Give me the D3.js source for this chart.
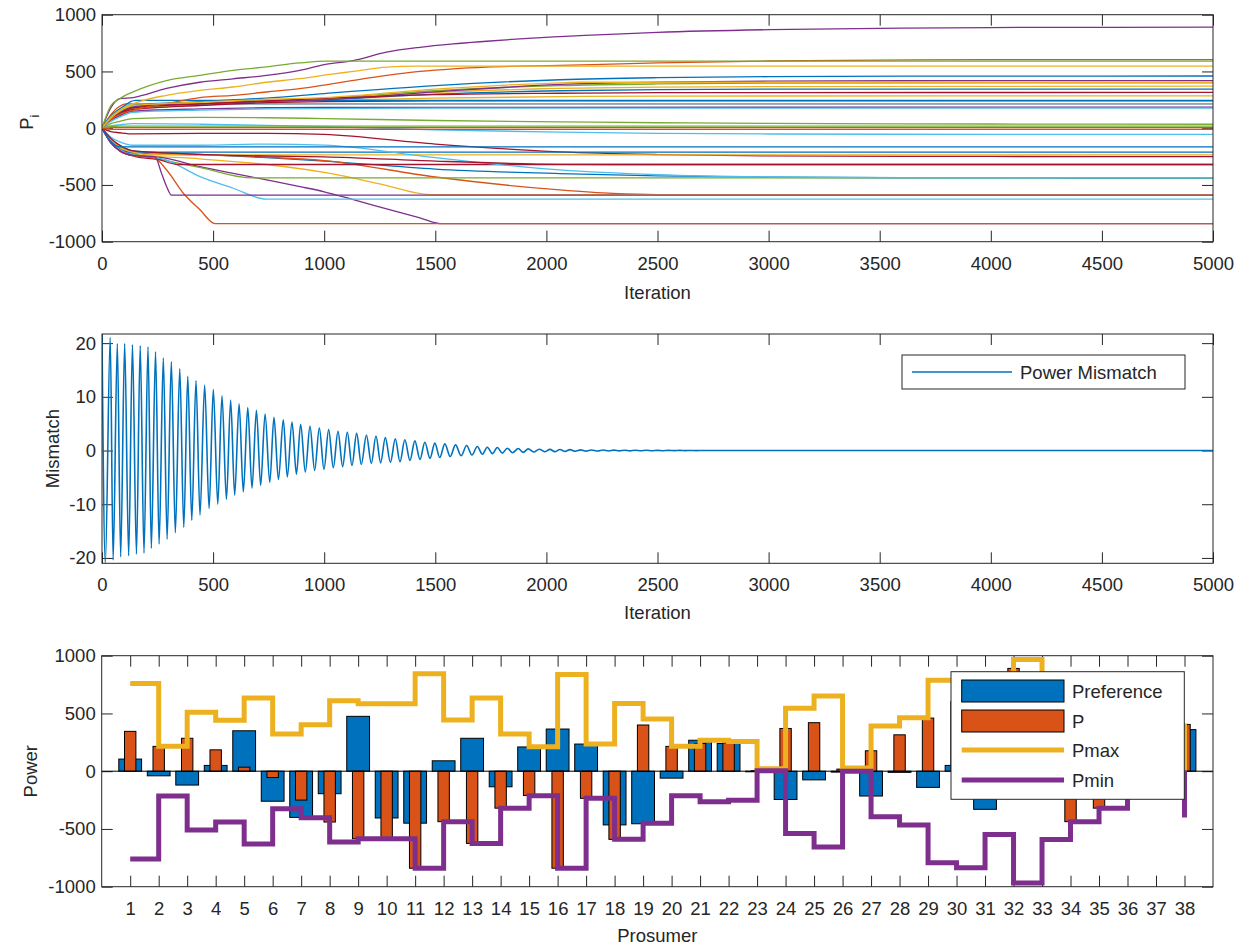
<!DOCTYPE html>
<html>
<head>
<meta charset="utf-8">
<script src="https://cdn.jsdelivr.net/npm/d3@7"></script>
<style>
  body { margin: 0; background: #fff; }
  svg { display: block; }
  text { font-family: "Liberation Sans", Arial, Helvetica, sans-serif; fill: #262626; }
</style>
</head>
<body>
<svg id="fig" width="1246" height="950"></svg>
<script>
// ---------------- data ----------------
const prosumers = d3.range(1, 39);
const iterationTicks = d3.range(0, 5001, 500);
const powerTicks = [-1000, -500, 0, 500, 1000];
const mismatchTicks = [-20, -10, 0, 10, 20];

// preferred power of each prosumer
const preference = [105, -40, -120, 50, 350, -260, -400, -195, 475, -405,
  -450, 90, 285, -135, 210, 365, 235, -465, -455, -60,
  268, 240, -5, -245, -75, -8, -215, -10, -140, 50,
  -330, 520, 300, -180, 120, -90, 30, 360];
// converged power P of each prosumer
const finalP = [345, 215, 285, 185, 35, -55, -250, -440, -585, -585,
  -840, -437, -625, -320, -210, -840, -235, -590, 400, 215,
  240, 245, 5, 370, 420, 18, 177, 315, 460, 605,
  547, 890, 591, -437, -320, -164, -10, 405];
// power limits
const pMax = [760, 215, 510, 441, 634, 323, 403, 611, 585, 585,
  844, 444, 634, 322, 212, 838, 235, 587, 452, 215,
  268, 258, 22, 544, 651, 28, 391, 463, 788, 837,
  548, 967, 592, 433, 317, 165, 10, 413];
const pMin = [-760, -215, -510, -440, -630, -325, -403, -614, -585, -585,
  -840, -437, -625, -320, -212, -840, -235, -590, -450, -212,
  -264, -252, 3, -540, -657, 0, -394, -465, -793, -837,
  -548, -967, -592, -437, -320, -164, -14, -400];

// P_i over the iterations: [iteration, value] key points per prosumer (the line then holds finalP)
const trajectories = [
  [[0,0],[40,90],[80,140],[140,190],[440,215],[740,235],[1000,250],[1500,300],[2060,330],[2500,340],[3000,344]],
  [[0,0],[40,120],[70,180],[110,215]],
  [[0,0],[40,80],[80,120],[140,170],[440,205],[740,230],[1000,245],[1500,265],[2060,278],[2500,283]],
  [[0,0],[40,70],[80,110],[140,150],[440,170],[740,180],[1000,184]],
  [[0,0],[40,40],[80,60],[140,85],[440,95],[740,92],[1000,85],[1500,68],[2060,56],[2500,48],[3000,42],[4000,37]],
  [[0,0],[40,20],[80,30],[140,40],[440,35],[740,25],[1000,15],[1500,-15],[2060,-35],[2500,-45],[3000,-51],[4000,-54]],
  [[0,0],[40,-30],[80,-40],[140,-50],[440,-45],[740,-45],[1000,-55],[1500,-140],[2060,-208],[2500,-232],[3000,-244],[4000,-249]],
  [[0,0],[40,-100],[80,-150],[140,-200],[440,-230],[740,-260],[1000,-290],[1500,-360],[2060,-400],[2500,-420],[3000,-432],[4000,-438]],
  [[0,0],[40,-110],[80,-170],[140,-220],[440,-235],[740,-255],[1000,-285],[1500,-430],[2060,-544],[2300,-575],[2500,-585]],
  [[0,0],[40,-120],[80,-180],[140,-230],[440,-270],[740,-320],[1026,-398],[1250,-490],[1476,-585]],
  [[0,0],[40,-120],[80,-180],[140,-230],[291,-266],[441,-339],[591,-398],[741,-456],[891,-515],[1000,-560],[1131,-630],[1281,-710],[1431,-790],[1521,-840]],
  [[0,0],[40,-110],[80,-160],[140,-220],[300,-290],[450,-350],[666,-437]],
  [[0,0],[40,-120],[80,-180],[140,-230],[291,-281],[441,-427],[591,-529],[741,-625]],
  [[0,0],[40,-130],[80,-200],[150,-250],[250,-275],[343,-320]],
  [[0,0],[40,-110],[80,-175],[120,-210]],
  [[0,0],[40,-130],[80,-200],[140,-240],[238,-266],[291,-368],[366,-573],[441,-719],[508,-840]],
  [[0,0],[40,-100],[80,-170],[140,-210],[216,-235]],
  [[0,0],[40,-130],[80,-200],[140,-240],[238,-251],[268,-398],[291,-515],[313,-590]],
  [[0,0],[40,80],[80,130],[140,180],[440,210],[740,240],[1000,262],[1500,330],[2060,375],[2500,390],[3000,397]],
  [[0,0],[40,110],[80,170],[140,215]],
  [[0,0],[40,80],[80,120],[140,165],[440,200],[740,225],[1000,235],[1500,240]],
  [[0,0],[40,110],[80,170],[150,245]],
  [[0,0],[40,5],[80,5]],
  [[0,0],[40,80],[80,130],[140,185],[440,220],[740,245],[1000,260],[1500,315],[2060,350],[2500,362],[3000,367]],
  [[0,0],[40,90],[80,140],[140,190],[440,215],[740,235],[1000,250],[1500,320],[2060,386],[2500,405],[3000,414],[4000,419]],
  [[0,0],[40,15],[80,18]],
  [[0,0],[40,60],[80,100],[140,140],[440,160],[740,170],[1000,173],[1500,176]],
  [[0,0],[40,80],[80,130],[140,180],[440,215],[740,240],[1000,262],[1500,295],[2060,308],[2500,313]],
  [[0,0],[40,100],[80,150],[140,200],[440,235],[740,265],[1000,305],[1500,375],[2060,427],[2500,445],[3000,454],[4000,459]],
  [[0,0],[40,80],[80,120],[140,158],[290,216],[440,269],[590,289],[740,319],[890,348],[1000,380],[1131,421],[1281,465],[1431,500],[1581,523],[1731,538],[2061,553],[2500,575],[3000,592],[3500,600],[4000,604]],
  [[0,0],[40,100],[80,160],[140,215],[290,290],[440,333],[590,363],[740,405],[890,436],[1026,474],[1130,500],[1280,538],[1420,547]],
  [[0,0],[40,180],[80,260],[140,270],[290,350],[440,405],[590,435],[740,465],[890,510],[1000,560],[1130,596],[1280,670],[1430,713],[1580,743],[1730,766],[1880,787],[2060,807],[2500,845],[3000,868],[3500,880],[4000,887]],
  [[0,0],[40,200],[80,260],[140,320],[290,420],[440,465],[590,510],[740,540],[890,575],[1010,591]],
  [[0,0],[40,-80],[80,-120],[140,-150],[440,-150],[740,-140],[1000,-150],[1500,-260],[2060,-368],[2500,-410],[3000,-430],[3500,-436]],
  [[0,0],[40,-90],[80,-150],[140,-200],[440,-230],[740,-245],[1000,-252],[1500,-290],[2060,-318],[2300,-320]],
  [[0,0],[40,-120],[80,-164]],
  [[0,0],[40,-10],[80,-10]],
  [[0,0],[40,90],[80,150],[140,200],[440,230],[740,255],[1000,270],[1500,345],[2060,400],[2150,405]]
];

// power mismatch: successive extrema [iteration] and their values
const mismatchIter = [0, 15, 37, 50, 69, 84, 102, 120, 137, 155, 172, 189, 207, 222, 241, 257, 276, 293, 312, 330,
  350, 368, 386, 404, 423, 441, 462, 482, 501, 521, 540, 560, 579, 597, 617, 636, 656, 675, 695, 714,
  734, 755, 774, 794, 816, 834, 855, 875, 894, 915, 936, 957, 978, 999, 1020, 1041, 1062, 1083, 1104, 1125,
  1146, 1167, 1190, 1212, 1233, 1254, 1275, 1298, 1320, 1341, 1363, 1386, 1408, 1431, 1453, 1476, 1498, 1520, 1543, 1567,
  1591, 1616, 1641, 1665, 1689, 1712, 1734, 1757, 1779, 1802, 1824, 1848, 1873, 1896, 1918, 1943, 1968, 1992, 2016, 2038,
  2061, 2084, 2106, 2130, 2154, 2178, 2203, 2230, 2256, 2280, 2304, 2328, 2352, 2376, 2400, 2425, 2450, 2475, 2500, 2525,
  2550, 2575, 2600, 2625, 2650, 2675, 2700, 2750, 5000];
const mismatchVal = [21.7, -21.0, 21.1, -20.4, 19.9, -19.8, 19.9, -19.6, 19.7, -19.3, 19.5, -19.1, 19.3, -18.2, 18.4, -17.4, 17.2, -16.5, 16.5, -15.3,
  15.2, -14.3, 13.8, -13.0, 13.0, -12.0, 12.2, -10.8, 11.4, -10.0, 10.2, -9.1, 9.4, -8.3, 8.7, -7.7, 8.0, -7.0, 7.5, -6.5,
  6.8, -5.9, 6.2, -5.4, 5.7, -4.9, 5.3, -4.4, 4.9, -4.0, 4.5, -3.7, 4.2, -3.5, 3.9, -3.2, 3.6, -3.0, 3.4, -2.8,
  3.2, -2.6, 2.9, -2.4, 2.7, -2.3, 2.4, -2.2, 2.2, -2.1, 2.0, -1.85, 1.8, -1.65, 1.55, -1.45, 1.37, -1.3, 1.24, -1.12,
  1.05, -0.98, 0.93, -0.84, 0.75, -0.68, 0.62, -0.58, 0.56, -0.48, 0.43, -0.4, 0.37, -0.34, 0.31, -0.28, 0.25, -0.23, 0.22, -0.2,
  0.19, -0.17, 0.16, -0.14, 0.13, -0.12, 0.11, -0.1, 0.09, -0.085, 0.08, -0.07, 0.065, -0.06, 0.055, -0.05, 0.045, -0.04, 0.035, -0.03,
  0.03, -0.025, 0.02, -0.02, 0.015, -0.01, 0.01, 0, 0];

// ---------------- layout & style ----------------
const lineColors = ['#0072BD', '#D95319', '#EDB120', '#7E2F8E', '#77AC30', '#4DBEEE', '#A2142F'];
const axisColor = '#262626';
const FS = 18.5;
const TICK = 11;

const panels = {
  top: { l: 102, r: 1213, t: 14.7, b: 241.7 },
  mid: { l: 102, r: 1213, t: 334, b: 563.3 },
  bot: { l: 101.7, r: 1213, t: 655.7, b: 886.7 }
};

const svg = d3.select('#fig');
svg.append('rect').attr('width', 1246).attr('height', 950).attr('fill', '#fff');

let clipCount = 0;
function makeClip(p) {
  const id = 'clip' + (clipCount++);
  svg.append('clipPath').attr('id', id)
    .append('rect').attr('x', p.l).attr('y', p.t).attr('width', p.r - p.l).attr('height', p.b - p.t);
  return 'url(#' + id + ')';
}

function styleAxis(g) {
  g.select('.domain').remove();
  g.selectAll('.tick line').attr('stroke', axisColor).attr('stroke-width', 1);
  g.selectAll('.tick text').attr('font-size', FS).attr('fill', axisColor)
    .style('font-family', '"Liberation Sans", Arial, sans-serif');
}

// axes frame with inward ticks on all four sides
function drawFrame(p, x, y, xTicks, yTicks) {
  const g = svg.append('g');
  g.append('g').attr('transform', `translate(0,${p.b})`)
    .call(d3.axisBottom(x).tickValues(xTicks).tickSize(-TICK).tickPadding(15).tickFormat(d3.format('d')))
    .call(styleAxis);
  g.append('g').attr('transform', `translate(0,${p.t})`)
    .call(d3.axisTop(x).tickValues(xTicks).tickSize(-TICK).tickFormat(''))
    .call(styleAxis);
  g.append('g').attr('transform', `translate(${p.l},0)`)
    .call(d3.axisLeft(y).tickValues(yTicks).tickSize(-TICK).tickPadding(6).tickFormat(d3.format('d')))
    .call(styleAxis);
  g.append('g').attr('transform', `translate(${p.r},0)`)
    .call(d3.axisRight(y).tickValues(yTicks).tickSize(-TICK).tickFormat(''))
    .call(styleAxis);
  g.selectAll('.tick text').text(function () { return this.textContent.replace('\u2212', '-'); });
  return g;
}

function drawBox(p) {
  svg.append('rect').attr('x', p.l).attr('y', p.t).attr('width', p.r - p.l).attr('height', p.b - p.t)
    .attr('fill', 'none').attr('stroke', axisColor).attr('stroke-width', 1);
}

function xLabel(p, txt, yy) {
  svg.append('text').attr('x', (p.l + p.r) / 2).attr('y', yy).attr('text-anchor', 'middle')
    .attr('dominant-baseline', 'central').attr('font-size', FS).text(txt);
}

// ---------------- panel 1: P_i trajectories ----------------
{
  const p = panels.top;
  const x = d3.scaleLinear([0, 5000], [p.l, p.r]);
  const y = d3.scaleLinear([-1000, 1000], [p.b, p.t]);
  drawFrame(p, x, y, iterationTicks, powerTicks);
  const line = d3.line().x(d => x(d[0])).y(d => y(d[1])).curve(d3.curveMonotoneX);
  const g = svg.append('g').attr('clip-path', makeClip(p));
  trajectories.forEach((pts, i) => {
    g.append('path').attr('d', line(pts.concat([[5000, finalP[i]]])))
      .attr('fill', 'none').attr('stroke', lineColors[i % 7]).attr('stroke-width', 1.3);
  });
  drawBox(p);
  xLabel(p, 'Iteration', 292);
  const yl = svg.append('text').attr('transform', `translate(33,${(p.t + p.b) / 2 - 6}) rotate(-90)`)
    .attr('text-anchor', 'middle').attr('font-size', FS);
  yl.append('tspan').text('P');
  yl.append('tspan').attr('font-size', FS * 0.7).attr('dy', FS * 0.3).text('i');
}

// ---------------- panel 2: power mismatch ----------------
{
  const p = panels.mid;
  const x = d3.scaleLinear([0, 5000], [p.l, p.r]);
  const y = d3.scaleLinear([-21.0, 21.7], [p.b, p.t]);
  drawFrame(p, x, y, iterationTicks, mismatchTicks);
  const pts = mismatchIter.map((t, i) => [t, mismatchVal[i]]);
  const line = d3.line().x(d => x(d[0])).y(d => y(d[1])).curve(d3.curveMonotoneX);
  svg.append('g').attr('clip-path', makeClip(p))
    .append('path').attr('d', line(pts))
    .attr('fill', 'none').attr('stroke', lineColors[0]).attr('stroke-width', 1.6);
  drawBox(p);
  xLabel(p, 'Iteration', 612);
  svg.append('text').attr('transform', `translate(52,${(p.t + p.b) / 2}) rotate(-90)`)
    .attr('text-anchor', 'middle').attr('dominant-baseline', 'central').attr('font-size', FS).text('Mismatch');
  // legend
  const lg = svg.append('g');
  lg.append('rect').attr('x', 902).attr('y', 355).attr('width', 283).attr('height', 34)
    .attr('fill', '#fff').attr('stroke', axisColor).attr('stroke-width', 1);
  lg.append('line').attr('x1', 912).attr('x2', 1012).attr('y1', 372).attr('y2', 372)
    .attr('stroke', lineColors[0]).attr('stroke-width', 1.6);
  lg.append('text').attr('x', 1020).attr('y', 372).attr('dominant-baseline', 'central')
    .attr('font-size', FS).text('Power Mismatch');
}

// ---------------- panel 3: prosumer powers ----------------
{
  const p = panels.bot;
  const x = d3.scaleLinear([0, 39], [p.l, p.r]);
  const y = d3.scaleLinear([-1000, 1000], [p.b, p.t]);
  drawFrame(p, x, y, prosumers, powerTicks);
  const unit = x(1) - x(0);
  const g = svg.append('g').attr('clip-path', makeClip(p));
  // preference bars (wide) and converged P bars (narrow) share the category centre
  g.selectAll('rect.pref').data(preference).join('rect').attr('class', 'pref')
    .attr('x', (d, i) => x(prosumers[i]) - 0.4 * unit).attr('width', 0.8 * unit)
    .attr('y', d => y(Math.max(0, d))).attr('height', d => Math.abs(y(d) - y(0)))
    .attr('fill', '#0072BD').attr('stroke', '#000').attr('stroke-width', 1);
  g.selectAll('rect.pbar').data(finalP).join('rect').attr('class', 'pbar')
    .attr('x', (d, i) => x(prosumers[i]) - 0.2 * unit).attr('width', 0.4 * unit)
    .attr('y', d => y(Math.max(0, d))).attr('height', d => Math.abs(y(d) - y(0)))
    .attr('fill', '#D95319').attr('stroke', '#000').attr('stroke-width', 1);
  // baseline
  g.append('line').attr('x1', p.l).attr('x2', p.r).attr('y1', y(0)).attr('y2', y(0))
    .attr('stroke', '#000').attr('stroke-width', 1);
  const stairs = d3.line().x(d => x(d[0])).y(d => y(d[1])).curve(d3.curveStepAfter);
  g.append('path').attr('d', stairs(pMax.map((v, i) => [prosumers[i], v])))
    .attr('fill', 'none').attr('stroke', '#EDB120').attr('stroke-width', 5).attr('stroke-linejoin', 'miter');
  g.append('path').attr('d', stairs(pMin.map((v, i) => [prosumers[i], v])))
    .attr('fill', 'none').attr('stroke', '#7E2F8E').attr('stroke-width', 5).attr('stroke-linejoin', 'miter');
  drawBox(p);
  xLabel(p, 'Prosumer', 935);
  svg.append('text').attr('transform', `translate(30,${(p.t + p.b) / 2}) rotate(-90)`)
    .attr('text-anchor', 'middle').attr('dominant-baseline', 'central').attr('font-size', FS).text('Power');

  // legend
  const lg = svg.append('g');
  lg.append('rect').attr('x', 951).attr('y', 671.7).attr('width', 233.3).attr('height', 127.6)
    .attr('fill', '#fff').attr('stroke', axisColor).attr('stroke-width', 1);
  const entries = [
    { label: 'Preference', type: 'bar', color: '#0072BD', y: 691 },
    { label: 'P', type: 'bar', color: '#D95319', y: 721 },
    { label: 'Pmax', type: 'line', color: '#EDB120', y: 750 },
    { label: 'Pmin', type: 'line', color: '#7E2F8E', y: 780 }
  ];
  entries.forEach(e => {
    if (e.type === 'bar') {
      lg.append('rect').attr('x', 961.7).attr('y', e.y - 11).attr('width', 102.3).attr('height', 22)
        .attr('fill', e.color).attr('stroke', '#000').attr('stroke-width', 1);
    } else {
      lg.append('line').attr('x1', 961.7).attr('x2', 1064).attr('y1', e.y).attr('y2', e.y)
        .attr('stroke', e.color).attr('stroke-width', 5);
    }
    lg.append('text').attr('x', 1072).attr('y', e.y).attr('dominant-baseline', 'central')
      .attr('font-size', FS).text(e.label);
  });
}
</script>
</body>
</html>
